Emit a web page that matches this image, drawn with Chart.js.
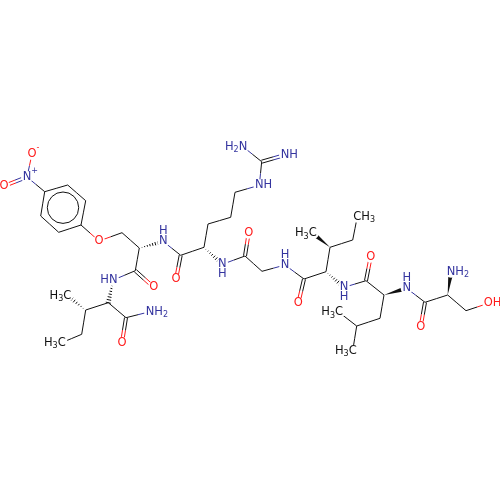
<!DOCTYPE html>
<html>
<head>
<meta charset="utf-8">
<script src="https://cdn.jsdelivr.net/npm/chart.js@4"></script>
<style>
html, body { margin: 0; padding: 0; background: #fff; }
#wrap { width: 500px; height: 500px; }
</style>
</head>
<body>
<div id="wrap"><canvas id="mol" width="500" height="500"></canvas></div>
<script>
// atoms, in image units
const atomX = [32,27,4,44.7,67.7,85.7,81,58.7,40.7,99,122,139.3,163.3,135.3,153.7,113.3,108.3,126,122,150,85.7,67.3,81.7,61.7,180.7,176,204,208,230.7,235,259.3,261.7,243,285,222.3,245,248.7,262,285,304,298.3,326,330,312.7,352.7,357.3,344,366,370.7,384,380,356.7,339,352.7,406.7,425,420.7,447.7,451,466,488.3]
const atomY = [154,177,186,191.7,185,200.7,225,232.3,216,241,232.7,248,241.5,270.7,287.3,280,302.7,317.7,342.7,311.7,310,295.7,334.3,342.7,255.3,279.5,247.3,224,217.3,192.3,185.3,161.7,146.7,155,264.3,256,232.7,271.3,265,279,303.3,271.7,247.3,233.3,240,216.7,287.3,280.7,256.7,295,318.3,326,312.3,350.7,288.3,302.3,326.7,295,271.7,310.7,303.3]
// label of each atom, "" for a plain carbon. ^ is superscript, _ is subscript, < means the text runs left, v means H below, a means H above
const atomLabel = ["O^-","N^+","O","","","","","","","O","","","Na","","O","<HN","","","O","NH_2","","<H_3C","","<H_3C","","O","","","","","NH","","<H_2N","NH","Nv","","O","","Na","","O","","","<H_3C","","CH_3","Nv","","O","","","","<H_3C","<H_3C","Na","","O","","NH_2","","OH"]

const bondFrom = [0,1,1,3,4,5,6,7,8,6,9,10,11,11,13,13,15,16,17,17,16,20,20,22,12,24,24,26,27,28,29,30,31,31,26,34,35,35,37,38,39,39,41,42,42,44,41,46,47,47,49,50,51,51,49,54,55,55,57,57,59]
const bondTo = [1,2,3,4,5,6,7,8,3,9,10,11,12,13,14,15,16,17,18,19,20,21,22,23,24,25,26,27,28,29,30,31,32,33,34,35,36,37,38,39,40,41,42,43,44,45,46,47,48,49,50,51,52,53,54,55,56,57,58,59,60]
// 1 single, 2 double, "w" solid wedge, "h" hashed wedge (narrow end on bondFrom)
const bondType = [1,2,1,1,1,1,1,1,1,1,1,1,"h",1,2,1,"h",1,2,1,1,"h",1,1,1,2,1,1,1,1,1,1,1,2,"h",1,2,1,1,1,2,1,1,"w",1,1,"h",1,2,1,1,1,1,1,"w",1,2,1,"w",1,1]

const ringX = [63]
const ringY = [207.7]

const black = "#111111"
const blue = "#34349f"
const red = "#ff1a1a"

function atomColor(i){
    let l = atomLabel[i]
    if(l.indexOf("N")>=0) return blue
    if(l.indexOf("O")>=0) return red
    return black
}

// one dataset per half bond so each half has the colour of its atom
let datasets = []
function addLine(x1,y1,x2,y2,color){
    datasets.push({
        type:"scatter",
        data:[{x:x1,y:y1},{x:x2,y:y2}],
        showLine:true,
        borderColor:color,
        borderWidth:1,
        pointRadius:0,
        order:3
    })
}
for(let b=0;b<bondFrom.length;b++){
    if(bondType[b]=="w" || bondType[b]=="h") continue
    let a1 = bondFrom[b], a2 = bondTo[b]
    let x1 = atomX[a1], y1 = atomY[a1], x2 = atomX[a2], y2 = atomY[a2]
    let len = Math.hypot(x2-x1,y2-y1)
    let nx = -(y2-y1)/len, ny = (x2-x1)/len
    let offsets = bondType[b]==2 ? [-1.5,1.5] : [0]
    offsets.forEach(o => {
        let mx = (x1+x2)/2+nx*o, my = (y1+y2)/2+ny*o
        addLine(x1+nx*o,y1+ny*o,mx,my,atomColor(a1))
        addLine(mx,my,x2+nx*o,y2+ny*o,atomColor(a2))
    })
}
// white dots keep the bonds off the letters
let dots = []
for(let i=0;i<atomX.length;i++){
    if(atomLabel[i]!="") dots.push({x:atomX[i],y:atomY[i]})
}
datasets.push({type:"scatter",data:dots,pointRadius:6,pointBackgroundColor:"#fff",pointBorderWidth:0,order:1})
// aromatic circle
datasets.push({type:"scatter",data:[{x:ringX[0],y:ringY[0]}],pointRadius:15.7,pointBackgroundColor:"rgba(0,0,0,0)",pointBorderColor:black,pointBorderWidth:1,order:2})

const wedges = {
    id:"wedges",
    beforeDatasetsDraw(chart){
        let ctx = chart.ctx, sx = chart.scales.x, sy = chart.scales.y
        ctx.save()
        for(let b=0;b<bondFrom.length;b++){
            if(bondType[b]!="w" && bondType[b]!="h") continue
            let x1 = sx.getPixelForValue(atomX[bondFrom[b]]), y1 = sy.getPixelForValue(atomY[bondFrom[b]])
            let x2 = sx.getPixelForValue(atomX[bondTo[b]]), y2 = sy.getPixelForValue(atomY[bondTo[b]])
            let len = Math.hypot(x2-x1,y2-y1)
            let nx = -(y2-y1)/len, ny = (x2-x1)/len
            let w = 2.6
            if(bondType[b]=="w"){
                ctx.fillStyle = black
                ctx.beginPath()
                ctx.moveTo(x1,y1)
                ctx.lineTo(x2+nx*w,y2+ny*w)
                ctx.lineTo(x2-nx*w,y2-ny*w)
                ctx.closePath()
                ctx.fill()
            } else {
                ctx.lineWidth = 1
                let n = Math.floor(len/2.6)
                for(let k=1;k<=n;k++){
                    let t = k/n
                    let px = x1+(x2-x1)*t, py = y1+(y2-y1)*t
                    ctx.strokeStyle = black
                    ctx.beginPath()
                    ctx.moveTo(px+nx*w*t,py+ny*w*t)
                    ctx.lineTo(px-nx*w*t,py-ny*w*t)
                    ctx.stroke()
                }
            }
        }
        ctx.restore()
    }
}

// split "NH_2" into pieces of normal, sub and super text
function pieces(s){
    let out = []
    for(let i=0;i<s.length;i++){
        if(s[i]=="_"){ out.push({t:s[i+1],k:"sub"}); i++ }
        else if(s[i]=="^"){ out.push({t:s[i+1],k:"sup"}); i++ }
        else out.push({t:s[i],k:"n"})
    }
    return out
}
const labels = {
    id:"labels",
    afterDatasetsDraw(chart){
        let ctx = chart.ctx, sx = chart.scales.x, sy = chart.scales.y
        const big = "11.5px 'DejaVu Sans'", small = "8px 'DejaVu Sans'"
        ctx.save()
        ctx.textBaseline = "middle"
        for(let i=0;i<atomX.length;i++){
            let l = atomLabel[i]
            if(l=="") continue
            let x = sx.getPixelForValue(atomX[i]), y = sy.getPixelForValue(atomY[i])
            ctx.fillStyle = atomColor(i)
            if(l=="Na" || l=="Nv"){
                ctx.font = big
                ctx.textAlign = "center"
                ctx.fillText("N",x,y)
                ctx.fillText("H",x,l=="Na" ? y-10 : y+10)
                continue
            }
            let left = l[0]=="<"
            let p = pieces(left ? l.slice(1) : l)
            ctx.textAlign = "left"
            // first letter (or last when running left) sits on the atom
            let widths = p.map(q => { ctx.font = q.k=="n" ? big : small; return ctx.measureText(q.t).width })
            let cx
            if(left){
                let total = widths.reduce((a,c)=>a+c,0)
                cx = x+widths[widths.length-1]/2-total
            } else {
                cx = x-widths[0]/2
            }
            p.forEach((q,j) => {
                ctx.font = q.k=="n" ? big : small
                let dy = q.k=="sub" ? 3.5 : (q.k=="sup" ? -6 : 0)
                ctx.fillText(q.t,cx,y+dy)
                cx += widths[j]
            })
        }
        ctx.restore()
    }
}

new Chart(document.getElementById("mol"),{
    data:{datasets:datasets},
    options:{
        responsive:false,
        animation:false,
        devicePixelRatio:1,
        layout:{padding:0,autoPadding:false},
        plugins:{legend:{display:false},tooltip:{enabled:false}},
        scales:{
            x:{type:"linear",min:0,max:500,display:false},
            y:{type:"linear",min:0,max:500,reverse:true,display:false}
        }
    },
    plugins:[wedges,labels]
})
</script>
</body>
</html>
